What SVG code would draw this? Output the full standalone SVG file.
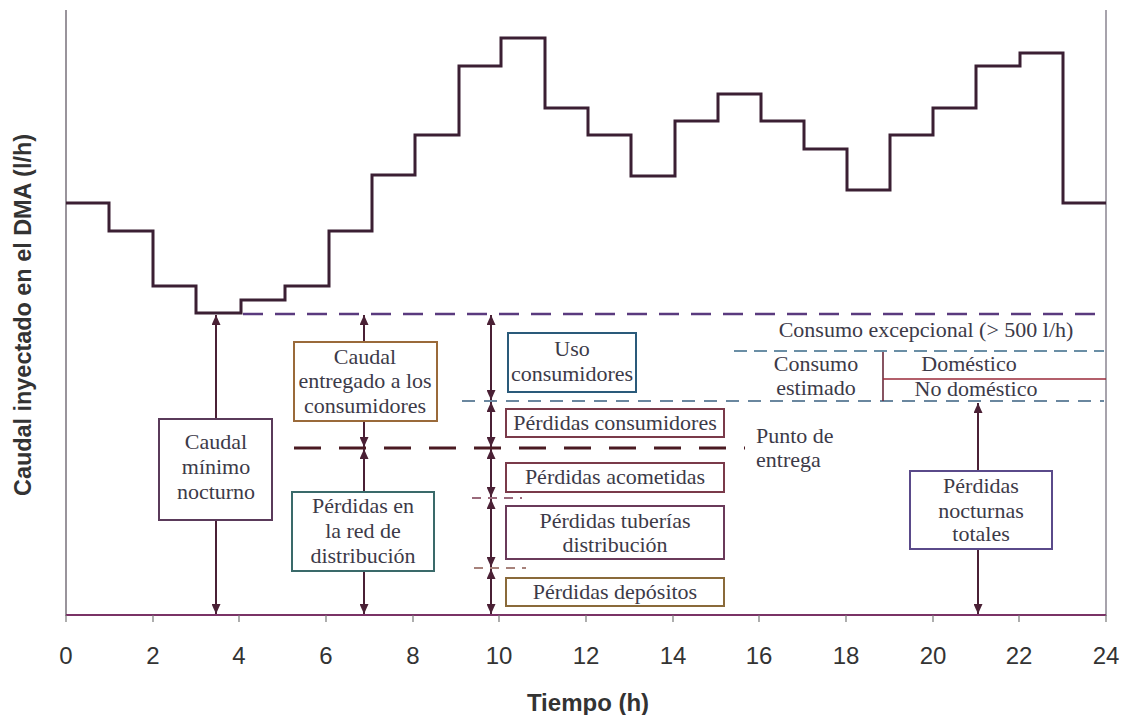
<svg xmlns="http://www.w3.org/2000/svg" width="1126" height="715" viewBox="0 0 1126 715">
<style>
.lbl{font-family:"Liberation Serif","Times New Roman",serif;font-size:22px;fill:#3c3a48;text-anchor:middle}
.lbll{font-family:"Liberation Serif","Times New Roman",serif;font-size:22px;fill:#3c3a48}
.box{fill:#fff;stroke-width:2}
.arr{stroke:#4a2035;stroke-width:2;fill:none;marker-start:url(#ah);marker-end:url(#ah)}
.tick{font-family:"Liberation Sans",Arial,sans-serif;font-size:24px;fill:#333;text-anchor:middle}
.axt{font-family:"Liberation Sans",Arial,sans-serif;font-weight:bold;font-size:24px;fill:#333;text-anchor:middle}
</style>
<defs>
<marker id="ah" markerUnits="userSpaceOnUse" markerWidth="10" markerHeight="9" refX="10" refY="4.5" orient="auto-start-reverse">
<path d="M0,0 L10,4.5 L0,9 z" fill="#4a2035"/>
</marker>
</defs>
<rect width="1126" height="715" fill="#fff"/>
<g id="axes">
<line x1="66" y1="10" x2="66" y2="616" stroke="#77707a" stroke-width="1.5"/>
<line x1="1106" y1="10" x2="1106" y2="616" stroke="#8a8590" stroke-width="1.5"/>
<line x1="66" y1="615" x2="1106" y2="615" stroke="#7a3266" stroke-width="2"/>
<g stroke="#777" stroke-width="1.2">
<line x1="66" y1="615" x2="66" y2="622"/><line x1="153" y1="615" x2="153" y2="622"/><line x1="239" y1="615" x2="239" y2="622"/><line x1="326" y1="615" x2="326" y2="622"/><line x1="413" y1="615" x2="413" y2="622"/><line x1="499" y1="615" x2="499" y2="622"/><line x1="586" y1="615" x2="586" y2="622"/><line x1="673" y1="615" x2="673" y2="622"/><line x1="759" y1="615" x2="759" y2="622"/><line x1="846" y1="615" x2="846" y2="622"/><line x1="933" y1="615" x2="933" y2="622"/><line x1="1019" y1="615" x2="1019" y2="622"/><line x1="1106" y1="615" x2="1106" y2="622"/>
</g>
<text class="tick" x="66" y="664">0</text><text class="tick" x="153" y="664">2</text><text class="tick" x="239" y="664">4</text><text class="tick" x="326" y="664">6</text><text class="tick" x="413" y="664">8</text><text class="tick" x="499" y="664">10</text><text class="tick" x="586" y="664">12</text><text class="tick" x="673" y="664">14</text><text class="tick" x="759" y="664">16</text><text class="tick" x="846" y="664">18</text><text class="tick" x="933" y="664">20</text><text class="tick" x="1019" y="664">22</text><text class="tick" x="1106" y="664">24</text>
<text class="axt" x="588" y="711">Tiempo (h)</text>
<text class="axt" transform="translate(31,315) rotate(-90)" textLength="362" lengthAdjust="spacingAndGlyphs">Caudal inyectado en el DMA (l/h)</text>
</g>
<g id="profile">
<path d="M66,203 H109 V231 H153 V286 H196 V313 H241 V300 H285 V286 H329 V231 H372 V175 H415 V135 H459 V66 H501 V38 H545 V108 H588 V135 H631 V176 H675 V121 H718 V94 H761 V121 H804 V149 H847 V190 H890 V135 H933 V108 H976 V66 H1020 V53 H1063 V203 H1106" fill="none" stroke="#3b1f33" stroke-width="3"/>
</g>
<g id="levels">
<line x1="243" y1="314" x2="1102" y2="314" stroke="#5a3a7e" stroke-width="2.5" stroke-dasharray="20 12"/>
<line x1="734" y1="351" x2="1104" y2="351" stroke="#3a6a88" stroke-width="1.6" stroke-dasharray="13 7"/>
<line x1="462" y1="401" x2="1104" y2="401" stroke="#3a6080" stroke-width="1.6" stroke-dasharray="13 9"/>
<line x1="294" y1="448" x2="745" y2="448" stroke="#4a1a22" stroke-width="3" stroke-dasharray="27 18"/>
<line x1="472" y1="498" x2="522" y2="498" stroke="#7a3a50" stroke-width="1.5" stroke-dasharray="9 7"/>
<line x1="474" y1="568" x2="526" y2="568" stroke="#8a5a50" stroke-width="1.5" stroke-dasharray="9 7"/>
<line x1="883" y1="352" x2="883" y2="401" stroke="#6a2a3a" stroke-width="1.6"/>
<line x1="883" y1="379" x2="1106" y2="379" stroke="#9a2a3a" stroke-width="1.6"/>
</g>
<g id="connectors">
<line class="arr" x1="216" y1="315" x2="216" y2="614"/>
<line class="arr" x1="364" y1="315" x2="364" y2="447"/>
<line class="arr" x1="364" y1="449" x2="364" y2="614"/>
<line class="arr" x1="491" y1="315" x2="491" y2="400"/>
<line class="arr" x1="491" y1="402" x2="491" y2="447"/>
<line class="arr" x1="491" y1="449" x2="491" y2="497"/>
<line class="arr" x1="491" y1="499" x2="491" y2="567"/>
<line class="arr" x1="491" y1="569" x2="491" y2="614"/>
<line class="arr" x1="978" y1="403" x2="978" y2="614"/>
</g>
<g id="n-caudal-minimo">
<rect class="box" x="159" y="419" width="113" height="101" stroke="#5a3a5a"/>
<text class="lbl" x="216" y="449">Caudal</text><text class="lbl" x="216" y="474">mínimo</text><text class="lbl" x="216" y="499">nocturno</text>
</g>
<g id="n-caudal-entregado">
<rect class="box" x="294" y="342" width="143" height="79" stroke="#9a6a3a"/>
<text class="lbl" x="365" y="364">Caudal</text><text class="lbl" x="365" y="388">entregado a los</text><text class="lbl" x="365" y="413">consumidores</text>
</g>
<g id="n-perdidas-red">
<rect class="box" x="292" y="492" width="142" height="79" stroke="#3a6a6a"/>
<text class="lbl" x="363" y="513">Pérdidas en</text><text class="lbl" x="363" y="538">la red de</text><text class="lbl" x="363" y="563">distribución</text>
</g>
<g id="n-uso">
<rect class="box" x="508" y="333" width="128" height="59" stroke="#2a5a7a"/>
<text class="lbl" x="572" y="356">Uso</text><text class="lbl" x="572" y="381">consumidores</text>
</g>
<g id="n-perd-consumidores">
<rect class="box" x="506" y="409" width="218" height="28" stroke="#7a3a4a"/>
<text class="lbl" x="615" y="430">Pérdidas consumidores</text>
</g>
<g id="n-perd-acometidas">
<rect class="box" x="506" y="463" width="218" height="29" stroke="#7a3a4a"/>
<text class="lbl" x="615" y="484">Pérdidas acometidas</text>
</g>
<g id="n-perd-tuberias">
<rect class="box" x="506" y="506" width="218" height="53" stroke="#6a3a5a"/>
<text class="lbl" x="615" y="528">Pérdidas tuberías</text><text class="lbl" x="615" y="552">distribución</text>
</g>
<g id="n-perd-depositos">
<rect class="box" x="506" y="578" width="218" height="28" stroke="#8a6a3a"/>
<text class="lbl" x="615" y="599">Pérdidas depósitos</text>
</g>
<g id="n-perd-nocturnas">
<rect class="box" x="910" y="471" width="142" height="78" stroke="#5a4a8a"/>
<text class="lbl" x="981" y="493">Pérdidas</text><text class="lbl" x="981" y="518">nocturnas</text><text class="lbl" x="981" y="541">totales</text>
</g>
<g id="labels">
<text class="lbl" x="926" y="337">Consumo excepcional (&gt; 500 l/h)</text>
<text class="lbl" x="816" y="371">Consumo</text>
<text class="lbl" x="816" y="395">estimado</text>
<text class="lbl" x="969" y="371">Doméstico</text>
<text class="lbl" x="976" y="396">No doméstico</text>
<text class="lbll" x="756" y="443">Punto de</text>
<text class="lbll" x="756" y="467">entrega</text>
</g>
</svg>
